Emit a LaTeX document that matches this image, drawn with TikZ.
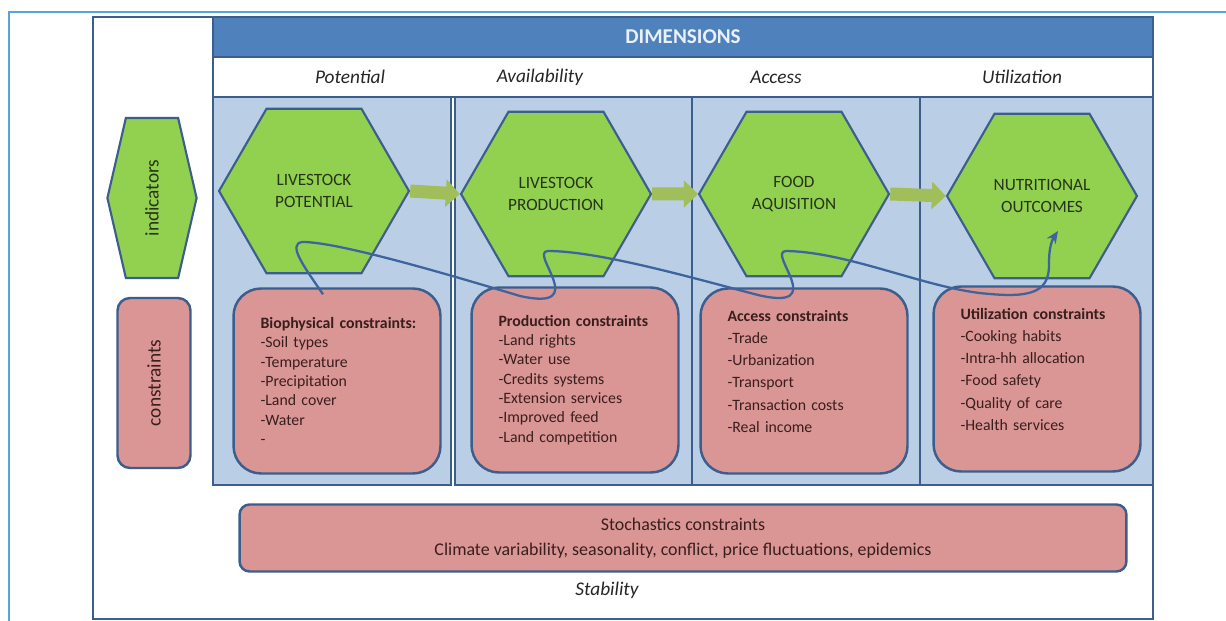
\documentclass[tikz,border=0pt]{standalone}
\usepackage{fontspec}
\setmainfont{Carlito}
\usetikzlibrary{shapes.geometric,shapes.symbols,arrows.meta}

\definecolor{capblue}{RGB}{91,163,220}
\definecolor{edgeblue}{RGB}{59,94,140}
\definecolor{hdrblue}{RGB}{79,129,189}
\definecolor{panelblue}{RGB}{186,206,230}
\definecolor{hexgreen}{RGB}{146,208,80}
\definecolor{hextext}{RGB}{38,52,24}
\definecolor{boxpink}{RGB}{217,150,148}
\definecolor{boxtext}{RGB}{58,30,30}
\definecolor{arrowgreen}{RGB}{160,190,90}
\definecolor{linkblue}{RGB}{62,100,158}

% lifts a text block inside its box by deepening the last line
\newcommand{\liftstrut}{\rule[-11pt]{0pt}{11pt}}

\begin{document}
\begin{tikzpicture}[x=0.02cm, y=-0.02cm]
		% Define styles
		\tikzstyle{hexa} = [regular polygon, regular polygon sides=6, draw=edgeblue, line width=1.2pt, fill=hexgreen, minimum size=3.8cm, inner sep=0pt, align=center, text=hextext, font=\fontsize{9.8}{13}\selectfont]
		\tikzstyle{cbox} = [rectangle, draw=edgeblue, line width=1.4pt, fill=boxpink, rounded corners=0.55cm, minimum width=4.14cm, minimum height=3.7cm, text width=3.06cm, inner xsep=0.54cm, align=left, text=boxtext, font=\fontsize{9}{11}\selectfont]
		\tikzstyle{panel} = [draw=edgeblue, line width=1.4pt, fill=panelblue]
		\tikzstyle{dimlabel} = [font=\fontsize{11}{13}\selectfont\itshape, text=black!85]
		\tikzstyle{greenarrow} = [draw=arrowgreen, line width=0.26cm, -{Triangle[length=0.28cm, width=0.54cm]}]
		\tikzstyle{chain} = [draw=linkblue, line width=1.3pt, -{Stealth[length=7pt, width=6pt]}]
		
		\useasboundingbox (0,0) rectangle (1226,621);
		
		% Frames and dimension bands
		\draw[capblue, line width=0.8pt] (9,621) -- (9,12) -- (1226,12);
		\draw[edgeblue, line width=1.4pt, fill=white] (93,17) rectangle (1153,619);
		\node[draw=edgeblue, line width=1.2pt, fill=hdrblue, minimum width=18.8cm, minimum height=0.8cm, text=white!88!hdrblue, font=\fontsize{12}{14}\selectfont\bfseries] (dims) at (683,37) {DIMENSIONS};
		\draw[edgeblue, line width=1.2pt, fill=white] (213,57) rectangle (1153,97);
		\node[dimlabel] (lpot) at (350,77) {Potential};
		\node[dimlabel] (lavail) at (540,77) {Availability};
		\node[dimlabel] (lacc) at (776,77) {Access};
		\node[dimlabel] (lutil) at (1022,77) {Utilization};
		
		\draw[panel] (213,97) rectangle (451,485);
		\draw[panel] (455,97) rectangle (692,485);
		\draw[panel] (692,97) rectangle (920,485);
		\draw[panel] (920,97) rectangle (1153,485);
		
		% Nodes
		\node[signal, signal to=north and south, signal pointer angle=154, rotate=90, draw=edgeblue, line width=1.2pt, fill=hexgreen, minimum width=3.2cm, minimum height=1.4cm, inner sep=0pt, text=hextext, font=\fontsize{11}{13}\selectfont] (indic) at (152,198) {indicators};
		\node[rectangle, rotate=90, draw=edgeblue, line width=1.4pt, fill=boxpink, rounded corners=0.25cm, minimum width=3.4cm, minimum height=1.46cm, text=boxtext, font=\fontsize{11}{13}\selectfont] (constr) at (154,383) {constraints};
		
		\node[hexa] (potential) at (314,191) {LIVESTOCK\\POTENTIAL};
		\node[hexa] (production) at (556,194) {LIVESTOCK\\PRODUCTION};
		\node[hexa] (acquisition) at (794,194) {FOOD\\AQUISITION};
		\node[hexa] (outcomes) at (1042,196) {NUTRITIONAL\\OUTCOMES};
		
		\node[cbox] (biocons) at (337,381) {\mbox{\textbf{Biophysical constraints:}}\\-Soil types\\-Temperature\\-Precipitation\\-Land cover\\-Water\\-};
		\node[cbox] (prodcons) at (575,380) {\textbf{Production constraints}\\-Land rights\\-Water use\\-Credits systems\\-Extension services\\-Improved feed\\-Land competition};
		\node[cbox, font=\fontsize{9}{12.6}\selectfont] (accesscons) at (804,381) {\textbf{Access constraints}\\-Trade\\-Urbanization\\-Transport\\-Transaction costs\\-Real income\liftstrut};
		\node[cbox, font=\fontsize{9}{12.6}\selectfont] (utilcons) at (1037,379) {\textbf{Utilization constraints}\\-Cooking habits\\-Intra-hh allocation\\-Food safety\\-Quality of care\\-Health services\liftstrut};
		
		\node[rectangle, draw=edgeblue, line width=1.4pt, fill=boxpink, rounded corners=0.2cm, minimum width=17.74cm, minimum height=1.34cm, align=center, text=boxtext, font=\fontsize{10.2}{14.5}\selectfont] (stochastic) at (683,538) {Stochastics constraints\\Climate variability, seasonality, conflict, price fluctuations, epidemics};
		\node[dimlabel] (lstab) at (607,590) {Stability};
		
		% Arrows
		\draw[greenarrow] (potential.east) -- (production.west);
		\draw[greenarrow] (production.east) -- (acquisition.west);
		\draw[greenarrow] (acquisition.east) -- (outcomes.west);
		
		\draw[chain] ([shift={(-14,7)}]biocons.north)
			.. controls (305,268) and (286,243) .. (303,242)
			.. controls (340,242) and (460,278) .. (520,296)
			.. controls (592,312) and (528,252) .. (548,251)
			.. controls (600,251) and (700,280) .. (758,295)
			.. controls (830,312) and (766,252) .. (786,251)
			.. controls (850,252) and (930,290) .. (990,294)
			.. controls (1035,298) and (1050,290) .. (1049,262)
			.. controls (1049,248) and (1052,240) .. ([shift={(16,35)}]outcomes.center);
	\end{tikzpicture}
\end{document}
